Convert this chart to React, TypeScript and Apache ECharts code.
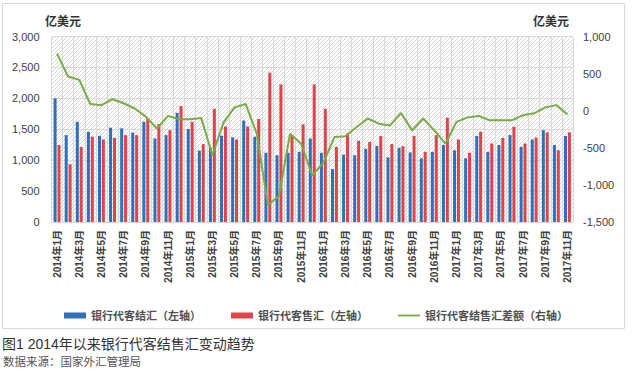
import React, { useEffect, useRef } from "react";
import * as echarts from "echarts";

const months: string[] = [];
for (let y = 2014; y <= 2017; y++) {
  for (let m = 1; m <= 12; m++) {
    if (y === 2017 && m > 11) break;
    months.push(`${y}年${m}月`);
  }
}

const settlement = [
  2000, 1405, 1620, 1460, 1395, 1525, 1515, 1445, 1620, 1350, 1405, 1765,
  1505, 1155, 1200, 1395, 1370, 1640, 1380, 1120, 1080, 1120, 1135, 1350,
  1120, 855, 1090, 1080, 1185, 1230, 1045, 1200, 1125, 1030, 1135, 1245,
  1160, 1030, 1390, 1135, 1245, 1405, 1215, 1335, 1485, 1245, 1390,
];

const sales = [
  1245, 935, 1215, 1380, 1335, 1360, 1405, 1405, 1675, 1585, 1485, 1875,
  1620, 1260, 1830, 1545, 1335, 1545, 1665, 2415, 2225, 1405, 1580, 2225,
  1830, 1215, 1430, 1315, 1295, 1390, 1260, 1225, 1390, 1135, 1405, 1685,
  1335, 1120, 1460, 1270, 1360, 1540, 1270, 1365, 1450, 1160, 1450,
];

const balance = [
  770, 460, 415, 90, 75, 155, 100, 30, -80, -240, -70, -115,
  -115, -100, -600, -160, 45, 90, -310, -1270, -1150, -310, -445, -875,
  -700, -355, -345, -220, -105, -175, -200, -30, -265, -105, -265, -445,
  -150, -90, -70, -130, -130, -130, -60, -35, 45, 75, -50,
];

const seriesNames = [
  "银行代客结汇（左轴）",
  "银行代客售汇（左轴）",
  "银行代客结售汇差额（右轴）",
];

const FONT = "Arial, 'Liberation Sans', 'Noto Sans CJK SC', sans-serif";

function makeHatch(): HTMLCanvasElement {
  const c = document.createElement("canvas");
  const s = 4;
  c.width = s;
  c.height = s;
  const ctx = c.getContext("2d")!;
  ctx.fillStyle = "#ffffff";
  ctx.fillRect(0, 0, s, s);
  ctx.strokeStyle = "#d3d3d3";
  ctx.lineWidth = 0.9;
  ctx.beginPath();
  ctx.moveTo(0, s);
  ctx.lineTo(s, 0);
  ctx.moveTo(-1, 1);
  ctx.lineTo(1, -1);
  ctx.moveTo(s - 1, s + 1);
  ctx.lineTo(s + 1, s - 1);
  ctx.stroke();
  return c;
}

const fmt = (v: number) => v.toLocaleString("en-US");

export default function App() {
  const ref = useRef<HTMLDivElement>(null);
  useEffect(() => {
    document.body.style.margin = "0";
    const chart = echarts.init(ref.current!, null, { renderer: "svg" });
    chart.setOption({
      animation: false,
      backgroundColor: "#ffffff",
      textStyle: { fontFamily: FONT },
      grid: {
        left: 51.5,
        right: 59,
        top: 36.5,
        bottom: 152,
        show: true,
        borderWidth: 0,
        backgroundColor: {
          image: makeHatch(),
          repeat: "repeat",
          imageWidth: 4,
          imageHeight: 4,
        },
      },
      legend: {
        left: "center",
        top: 305,
        itemGap: 30,
        itemWidth: 22,
        itemHeight: 6,
        textStyle: {
          fontFamily: FONT,
          fontSize: 11,
          color: "#505050",
          fontWeight: "bold",
        },
        data: [
          { name: seriesNames[0], icon: "rect" },
          { name: seriesNames[1], icon: "rect" },
          { name: seriesNames[2], icon: "path://M0,0H24V2H0Z" },
        ],
      },
      xAxis: {
        type: "category",
        data: months,
        boundaryGap: true,
        axisTick: { show: false },
        axisLine: { show: true, lineStyle: { color: "#d9d9d9", width: 1 } },
        splitLine: {
          show: true,
          interval: 0,
          lineStyle: { color: "#d9d9d9", width: 1 },
        },
        axisLabel: {
          interval: 1,
          rotate: 90,
          margin: 8,
          fontSize: 10,
          color: "#404040",
          fontWeight: "bold",
          fontFamily: FONT,
        },
      },
      yAxis: [
        {
          type: "value",
          min: 0,
          max: 3000,
          interval: 500,
          axisLine: { show: false },
          axisTick: { show: false },
          splitLine: { show: true, lineStyle: { color: "#d9d9d9", width: 1 } },
          axisLabel: {
            margin: 12,
            fontSize: 11,
            color: "#404040",
            fontFamily: FONT,
            formatter: fmt,
          },
        },
        {
          type: "value",
          min: -1500,
          max: 1000,
          interval: 500,
          axisLine: { show: false },
          axisTick: { show: false },
          splitLine: { show: false },
          axisLabel: {
            margin: 10,
            fontSize: 11,
            color: "#404040",
            fontFamily: FONT,
            formatter: fmt,
          },
        },
      ],
      series: [
        {
          name: seriesNames[0],
          type: "bar",
          data: settlement,
          barWidth: 3,
          barGap: "30%",
          itemStyle: { color: "#2f70b8" },
        },
        {
          name: seriesNames[1],
          type: "bar",
          data: sales,
          barWidth: 3,
          itemStyle: { color: "#de4449" },
        },
        {
          name: seriesNames[2],
          type: "line",
          yAxisIndex: 1,
          data: balance,
          symbol: "none",
          lineStyle: { color: "#7aab45", width: 2 },
          itemStyle: { color: "#7aab45" },
          z: 5,
        },
      ],
      graphic: [
        {
          type: "rect",
          shape: { x: 2.5, y: 3.5, width: 622, height: 325 },
          style: { fill: "none", stroke: "#d9d9d9", lineWidth: 1 },
          silent: true,
          z: -10,
        },
        {
          type: "text",
          x: 63,
          y: 22,
          style: {
            text: "亿美元",
            fontSize: 12,
            fontWeight: "bold",
            fill: "#333333",
            fontFamily: FONT,
            align: "center",
            verticalAlign: "middle",
          },
        },
        {
          type: "text",
          x: 551,
          y: 22,
          style: {
            text: "亿美元",
            fontSize: 12,
            fontWeight: "bold",
            fill: "#333333",
            fontFamily: FONT,
            align: "center",
            verticalAlign: "middle",
          },
        },
        {
          type: "text",
          x: 2,
          y: 344,
          style: {
            text: "图1 2014年以来银行代客结售汇变动趋势",
            fontSize: 14,
            fill: "#333333",
            fontFamily: FONT,
            align: "left",
            verticalAlign: "middle",
          },
        },
        {
          type: "text",
          x: 3,
          y: 362,
          style: {
            text: "数据来源：国家外汇管理局",
            fontSize: 11.5,
            fill: "#555555",
            fontFamily: FONT,
            align: "left",
            verticalAlign: "middle",
          },
        },
      ],
    });
    return () => chart.dispose();
  }, []);
  return <div ref={ref} style={{ width: 632, height: 374 }} />;
}
